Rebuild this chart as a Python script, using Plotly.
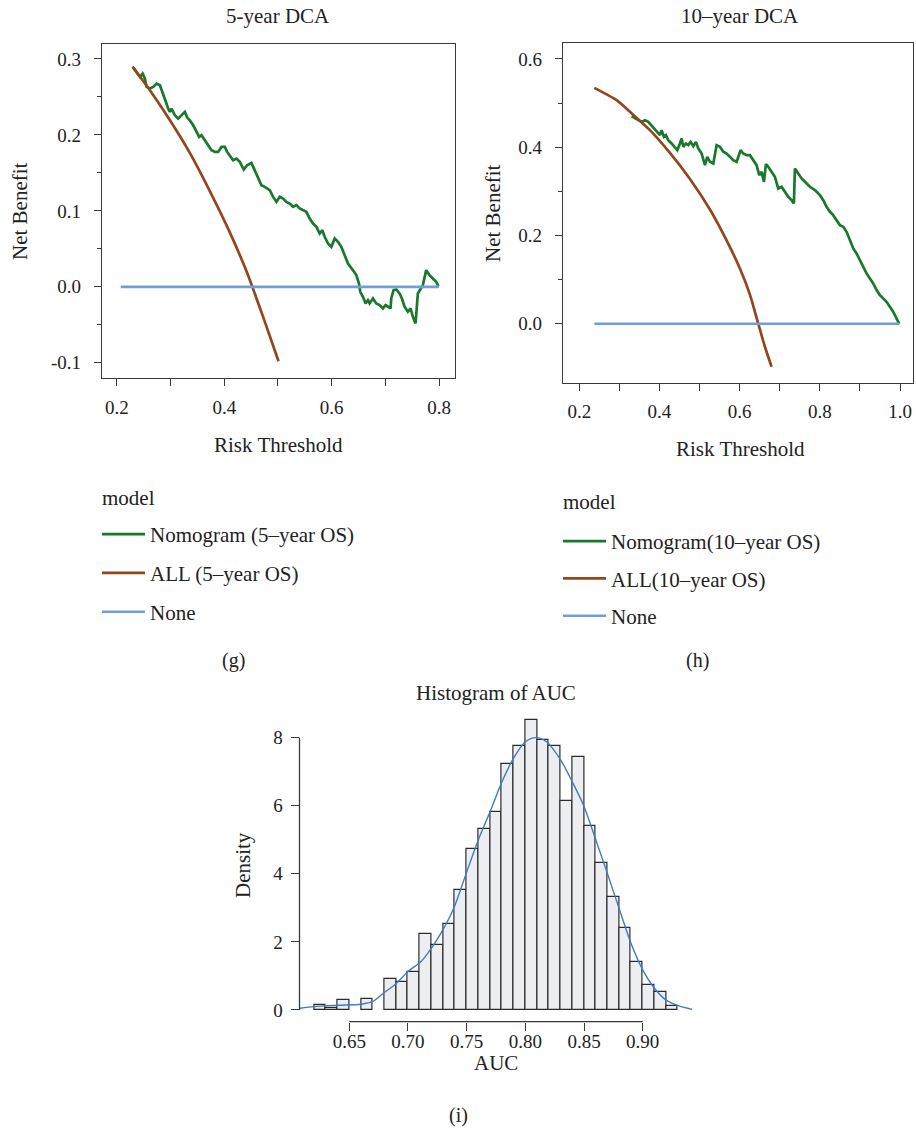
import plotly.graph_objects as go

FONT = "Liberation Serif"
W, H = 916, 1140

# ---------------- 5-year DCA data ----------------
nomo5_x = [0.2304, 0.2366, 0.2428, 0.2478, 0.2521, 0.2552, 0.2614, 0.2676, 0.2738, 0.2800,
           0.2862, 0.2912, 0.2955, 0.2986, 0.3017, 0.3079, 0.3141, 0.3203, 0.3265, 0.3309,
           0.3358, 0.3420, 0.3482, 0.3532, 0.3575, 0.3637, 0.3699, 0.3761, 0.3823, 0.3885,
           0.3947, 0.4009, 0.4053, 0.4102, 0.4164, 0.4226, 0.4288, 0.4363, 0.4425, 0.4505,
           0.4567, 0.4629, 0.4691, 0.4753, 0.4847, 0.4909, 0.4971, 0.5033, 0.5095, 0.5157,
           0.5219, 0.5281, 0.5343, 0.5405, 0.5467, 0.5529, 0.5591, 0.5653, 0.5715, 0.5777,
           0.5826, 0.5870, 0.5932, 0.5994, 0.6056, 0.6118, 0.6180, 0.6242, 0.6304, 0.6397,
           0.6459, 0.6509, 0.6533, 0.6583, 0.6633, 0.6676, 0.6707, 0.6769, 0.6831, 0.6893,
           0.6955, 0.7005, 0.7048, 0.7098, 0.7110, 0.7153, 0.7203, 0.7265, 0.7309, 0.7358,
           0.7420, 0.7470, 0.7513, 0.7563, 0.7606, 0.7650, 0.7699, 0.7761, 0.7823, 0.7885,
           0.7947, 0.7991]
nomo5_y = [0.2886, 0.2829, 0.2763, 0.2807, 0.2741, 0.2632, 0.2610, 0.2632, 0.2675, 0.2654,
           0.2544, 0.2434, 0.2346, 0.2303, 0.2346, 0.2259, 0.2215, 0.2259, 0.2303, 0.2228,
           0.2193, 0.2127, 0.2039, 0.1974, 0.1996, 0.1930, 0.1864, 0.1798, 0.1776, 0.1776,
           0.1842, 0.1842, 0.1776, 0.1732, 0.1667, 0.1689, 0.1645, 0.1544, 0.1601, 0.1632,
           0.1535, 0.1447, 0.1338, 0.1316, 0.1272, 0.1184, 0.1118, 0.1184, 0.1162, 0.1118,
           0.1096, 0.1053, 0.1075, 0.1031, 0.1009, 0.0987, 0.0899, 0.0833, 0.0789, 0.0702,
           0.0746, 0.0658, 0.0570, 0.0526, 0.0636, 0.0592, 0.0526, 0.0417, 0.0307, 0.0219,
           0.0154, 0.0044, -0.0066, -0.0132, -0.0219, -0.0175, -0.0219, -0.0154, -0.0219, -0.0241,
           -0.0285, -0.0241, -0.0263, -0.0285, -0.0154, -0.0044, -0.0035, -0.0088, -0.0154, -0.0263,
           -0.0329, -0.0285, -0.0395, -0.0482, -0.0088, -0.0044, 0.0022, 0.0219, 0.0154, 0.0110,
           0.0066, 0.0009]
all5_x = [0.229, 0.261, 0.299, 0.336, 0.373, 0.410, 0.441, 0.472, 0.501]
all5_y = [0.290, 0.259, 0.219, 0.176, 0.126, 0.072, 0.021, -0.039, -0.098]
none5_x = [0.207, 0.800]
none5_y = [0.0, 0.0]

# ---------------- 10-year DCA data ----------------
nomo10_x = [0.3305, 0.3388, 0.3471, 0.3554, 0.3638, 0.3721, 0.3845, 0.3929, 0.4012, 0.4053,
            0.4111, 0.4161, 0.4219, 0.4303, 0.4386, 0.4444, 0.4510, 0.4552, 0.4594, 0.4660,
            0.4718, 0.4776, 0.4843, 0.4909, 0.4968, 0.5051, 0.5134, 0.5192, 0.5259, 0.5342,
            0.5425, 0.5508, 0.5591, 0.5674, 0.5757, 0.5840, 0.5924, 0.5965, 0.6023, 0.6090,
            0.6173, 0.6256, 0.6339, 0.6422, 0.6489, 0.6547, 0.6605, 0.6655, 0.6713, 0.6796,
            0.6879, 0.6962, 0.7046, 0.7129, 0.7212, 0.7295, 0.7353, 0.7378, 0.7461, 0.7544,
            0.7628, 0.7752, 0.7877, 0.8002, 0.8085, 0.8168, 0.8251, 0.8334, 0.8417, 0.8500,
            0.8584, 0.8667, 0.8750, 0.8833, 0.8916, 0.8999, 0.9082, 0.9165, 0.9249, 0.9332,
            0.9415, 0.9498, 0.9581, 0.9664, 0.9747, 0.9830, 0.9913, 0.9980]
nomo10_y = [0.4704, 0.4651, 0.4613, 0.4575, 0.4613, 0.4575, 0.4447, 0.4349, 0.4273, 0.4387,
            0.4236, 0.4273, 0.4160, 0.4085, 0.4009, 0.3934, 0.4085, 0.4198, 0.4009, 0.4085,
            0.4047, 0.4122, 0.4024, 0.4122, 0.3971, 0.3858, 0.3594, 0.3783, 0.3669, 0.3632,
            0.4047, 0.4009, 0.3896, 0.3858, 0.3783, 0.3707, 0.3669, 0.3783, 0.3934, 0.3858,
            0.3820, 0.3820, 0.3707, 0.3594, 0.3367, 0.3443, 0.3216, 0.3616, 0.3556, 0.3443,
            0.3330, 0.3065, 0.3103, 0.2990, 0.2877, 0.2801, 0.2726, 0.3518, 0.3405, 0.3292,
            0.3216, 0.3103, 0.3028, 0.2914, 0.2801, 0.2650, 0.2537, 0.2461, 0.2348, 0.2235,
            0.2197, 0.2084, 0.1895, 0.1706, 0.1593, 0.1442, 0.1291, 0.1140, 0.1027, 0.0914,
            0.0763, 0.0649, 0.0574, 0.0498, 0.0385, 0.0272, 0.0121, 0.0000]
all10_x = [0.2374, 0.2931, 0.3264, 0.3762, 0.4261, 0.4760, 0.5259, 0.5674, 0.6007, 0.6256,
           0.6464, 0.6630, 0.6796]
all10_y = [0.5345, 0.5066, 0.4802, 0.4387, 0.3870, 0.3280, 0.2590, 0.1890, 0.1250, 0.0660,
           0.0000, -0.0521, -0.0974]
none10_x = [0.2374, 0.998]
none10_y = [0.0, 0.0]

# ---------------- Histogram of AUC ----------------
bin_start = [0.62, 0.63, 0.64, 0.65, 0.66, 0.67, 0.68, 0.69, 0.70, 0.71, 0.72, 0.73, 0.74,
             0.75, 0.76, 0.77, 0.78, 0.79, 0.80, 0.81, 0.82, 0.83, 0.84, 0.85, 0.86, 0.87,
             0.88, 0.89, 0.90, 0.91, 0.92]
density = [0.15, 0.05, 0.30, None, 0.33, None, 0.91, 0.81, 1.11, 2.23, 1.90, 2.53, 3.52,
           4.74, 5.33, 5.81, 7.23, 7.75, 8.53, 7.94, 7.75, 6.13, 7.42, 5.41, 4.32, 3.32,
           2.42, 1.42, 0.73, 0.52, 0.13]
kde_x = [0.608, 0.62, 0.64, 0.66, 0.67, 0.679, 0.69, 0.70, 0.711, 0.717, 0.728, 0.739, 0.75,
         0.76, 0.77, 0.78, 0.79, 0.80, 0.809, 0.818, 0.83, 0.84, 0.85, 0.86, 0.87, 0.88,
         0.89, 0.90, 0.91, 0.92, 0.931, 0.942]
kde_y = [0.05, 0.10, 0.14, 0.17, 0.25, 0.49, 0.78, 1.13, 1.42, 1.67, 2.25, 2.99, 4.05,
         5.00, 5.83, 6.70, 7.40, 7.88, 8.00, 7.88, 7.35, 6.70, 5.98, 5.00, 4.00, 2.97,
         1.96, 1.18, 0.64, 0.29, 0.12, 0.02]

GREEN = "#18792c"
BROWN = "#93461e"
BLUE = "#6d9fdc"
TXT = "#222222"
AX = "#3a3a3a"


def px_x(p):
    return p / W


def px_y(p):
    return 1 - p / H


fig = go.Figure()

# DCA traces
fig.add_trace(go.Scatter(x=nomo5_x, y=nomo5_y, mode="lines", name="Nomogram (5\u2013year OS)",
                         line=dict(color=GREEN, width=2.7), xaxis="x", yaxis="y",
                         legend="legend", legendgroup="a1"))
fig.add_trace(go.Scatter(x=all5_x, y=all5_y, mode="lines", name="ALL (5\u2013year OS)",
                         line=dict(color=BROWN, width=2.7, shape="spline", smoothing=0.6),
                         xaxis="x", yaxis="y", legend="legend", legendgroup="a2"))
fig.add_trace(go.Scatter(x=none5_x, y=none5_y, mode="lines", name="None",
                         line=dict(color=BLUE, width=2.7), xaxis="x", yaxis="y",
                         legend="legend", legendgroup="a3"))

fig.add_trace(go.Scatter(x=nomo10_x, y=nomo10_y, mode="lines", name="Nomogram(10\u2013year OS)",
                         line=dict(color=GREEN, width=2.7), xaxis="x2", yaxis="y2",
                         legend="legend2", legendgroup="b1"))
fig.add_trace(go.Scatter(x=all10_x, y=all10_y, mode="lines", name="ALL(10\u2013year OS)",
                         line=dict(color=BROWN, width=2.7, shape="spline", smoothing=0.6),
                         xaxis="x2", yaxis="y2", legend="legend2", legendgroup="b2"))
fig.add_trace(go.Scatter(x=none10_x, y=none10_y, mode="lines", name="None",
                         line=dict(color=BLUE, width=2.7), xaxis="x2", yaxis="y2",
                         legend="legend2", legendgroup="b3"))

# Histogram
fig.add_trace(go.Bar(x=bin_start, y=density, width=0.01, offset=0,
                     marker=dict(color="#eceef1", line=dict(color="#2b2b2b", width=1.2)),
                     xaxis="x3", yaxis="y3", showlegend=False))
fig.add_trace(go.Scatter(x=kde_x, y=kde_y, mode="lines",
                         line=dict(color="#3f7bc4", width=1.4, shape="spline", smoothing=0.8),
                         xaxis="x3", yaxis="y3", showlegend=False))

tickfont = dict(family=FONT, size=19, color=TXT)

box_axis = dict(showline=True, mirror=True, linecolor=AX, linewidth=1.4, ticks="outside",
                ticklen=7, tickwidth=1.3, tickcolor=AX, showgrid=False, zeroline=False,
                tickfont=tickfont)

leg_font = dict(family=FONT, size=21, color=TXT)

fig.update_layout(
    width=W, height=H, margin=dict(l=0, r=0, t=0, b=0),
    paper_bgcolor="white", plot_bgcolor="white", bargap=0,
    xaxis=dict(domain=[px_x(102), px_x(455)], range=[0.1721, 0.8298], anchor="y",
               tickvals=[0.2, 0.3, 0.4, 0.5, 0.6, 0.7, 0.8],
               ticktext=["0.2", "", "0.4", "", "0.6", "", "0.8"],
               ticklabelstandoff=5, **box_axis),
    yaxis=dict(domain=[px_y(378), px_y(44)], range=[-0.1201, 0.3197], anchor="x",
               tickvals=[-0.1, 0.0, 0.1, 0.2, 0.3], ticktext=["-0.1", "0.0", "0.1", "0.2", "0.3"],
               minor=dict(tickvals=[-0.05, 0.05, 0.15, 0.25], ticks="outside", ticklen=4,
                          tickwidth=1.3, tickcolor=AX),
               ticklabelstandoff=9, **box_axis),
    xaxis2=dict(domain=[px_x(563), px_x(913)], range=[0.1593, 1.0324], anchor="y2",
                tickvals=[0.2, 0.3, 0.4, 0.5, 0.6, 0.7, 0.8, 0.9, 1.0],
                ticktext=["0.2", "", "0.4", "", "0.6", "", "0.8", "", "1.0"],
                ticklabelstandoff=4, **box_axis),
    yaxis2=dict(domain=[px_y(383), px_y(43)], range=[-0.1343, 0.6362], anchor="x2",
                tickvals=[0.0, 0.2, 0.4, 0.6], ticktext=["0.0", "0.2", "0.4", "0.6"],
                minor=dict(tickvals=[0.1, 0.3, 0.5], ticks="outside", ticklen=4,
                           tickwidth=1.3, tickcolor=AX),
                ticklabelstandoff=9, **box_axis),
    xaxis3=dict(domain=[px_x(299.5), px_x(692.5)], range=[0.6076, 0.9424], anchor="y3",
                tickvals=[0.65, 0.70, 0.75, 0.80, 0.85, 0.90],
                ticktext=["0.65", "0.70", "0.75", "0.80", "0.85", "0.90"],
                showline=False, ticks="outside", ticklen=8, tickwidth=1.3, tickcolor=AX,
                showgrid=False, zeroline=False, tickfont=tickfont, ticklabelstandoff=-5),
    yaxis3=dict(domain=[px_y(1021.6), px_y(708)], range=[-0.341, 8.871], anchor="x3",
                tickvals=[0, 2, 4, 6, 8], ticktext=["0", "2", "4", "6", "8"],
                showline=False, ticks="outside", ticklen=8, tickwidth=1.3, tickcolor=AX,
                showgrid=False, zeroline=False, tickfont=tickfont, ticklabelstandoff=4),
    legend=dict(x=px_x(97), y=px_y(514), xanchor="left", yanchor="top",
                font=leg_font, bgcolor="rgba(0,0,0,0)", itemwidth=43,
                traceorder="grouped", tracegroupgap=8.5),
    legend2=dict(x=px_x(558), y=px_y(521), xanchor="left", yanchor="top",
                 font=leg_font, bgcolor="rgba(0,0,0,0)", itemwidth=43,
                 traceorder="grouped", tracegroupgap=7),
)

# R-style axis lines for histogram (span tick range only)
fig.add_shape(type="line", xref="x3 domain", yref="y3", x0=0, x1=0, y0=0, y1=8,
              line=dict(color=AX, width=1.3))
fig.add_shape(type="line", xref="x3", yref="y3 domain", x0=0.65, x1=0.90, y0=0, y1=0,
              line=dict(color=AX, width=1.3))


def txt(text, x, y, size=21, angle=0, anchor="center"):
    fig.add_annotation(text=text, x=px_x(x), y=px_y(y), xref="paper", yref="paper",
                       showarrow=False, textangle=angle, xanchor=anchor, yanchor="middle",
                       font=dict(family=FONT, size=size, color=TXT))


txt("5-year DCA", 278, 16)
txt("10\u2013year DCA", 740, 16)
txt("Net Benefit", 20, 211, angle=-90)
txt("Net Benefit", 493, 213, angle=-90)
txt("Risk Threshold", 278, 445)
txt("Risk Threshold", 740, 449)
txt("model", 100, 498, anchor="left")
txt("model", 561, 502, anchor="left")
txt("(g)", 233, 660, size=20)
txt("(h)", 697, 660, size=20)
txt("Histogram of AUC", 496, 693)
txt("AUC", 496, 1063)
txt("Density", 243, 865, angle=-90)
txt("(i)", 458, 1115, size=20)

fig.write_html("out.html", config={"displayModeBar": False},
               post_script="document.body.style.margin='0';document.body.style.padding='0';")
